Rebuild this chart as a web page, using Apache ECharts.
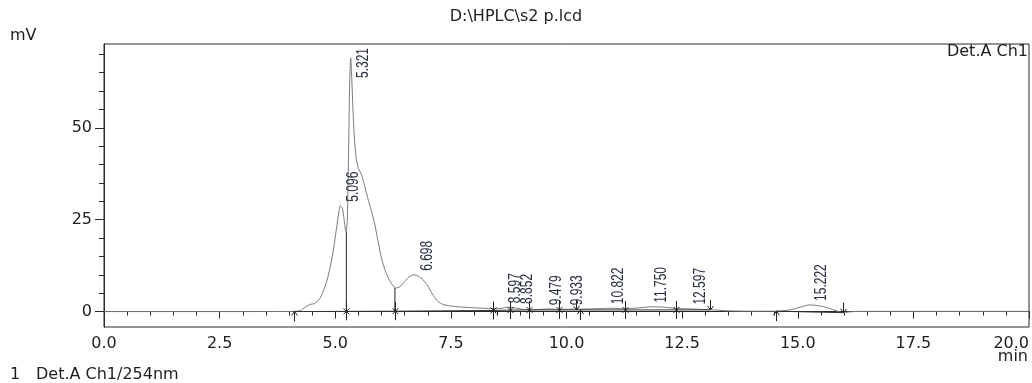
<!DOCTYPE html>
<html><head><meta charset="utf-8">
<script src="https://cdn.jsdelivr.net/npm/echarts@6/dist/echarts.min.js"></script>
<style>html,body{margin:0;padding:0;background:#fff}#c{width:1032px;height:383px}</style>
</head><body><div id="c"></div>
<script>
// ---- data ----
const signalTimes = [
  0, 1, 2, 3, 3.8, 4.1, 4.25, 4.35, 4.45, 4.55,
  4.65, 4.75, 4.85, 4.95, 5.02, 5.08, 5.11, 5.15, 5.19, 5.23,
  5.26, 5.29, 5.315, 5.335, 5.355, 5.38, 5.41, 5.45, 5.50, 5.56,
  5.63, 5.70, 5.78, 5.85, 5.92, 6.00, 6.08, 6.16, 6.24, 6.31,
  6.40, 6.50, 6.60, 6.70, 6.80, 6.90, 7.00, 7.10, 7.20, 7.30,
  7.45, 7.65, 7.90, 8.20, 8.42, 8.60, 8.75, 8.90, 9.05, 9.20,
  9.40, 9.60, 9.84, 10.10, 10.40, 10.70, 10.95, 11.27, 11.55, 11.85,
  12.10, 12.37, 12.70, 13.10, 13.50, 14.00, 14.53, 14.80, 15.00, 15.25,
  15.50, 15.75, 15.98, 16.20, 16.60, 17.5, 18.5, 20
];
const signalValues = [
  0, 0, 0, 0, 0.02, 0.05, 0.3, 1.2, 1.9, 2.2,
  3.2, 5.8, 9.8, 16.0, 22.0, 27.3, 28.8, 28.3, 25.2, 21.8,
  24.5, 45, 64, 69, 64, 56, 48, 42, 39, 37.5,
  34.5, 31, 27.5, 24, 19.5, 14.5, 11.2, 8.8, 7.2, 6.4,
  6.8, 8.2, 9.5, 10.0, 9.6, 8.6, 7.0, 4.8, 3.0, 2.1,
  1.6, 1.3, 1.1, 0.9, 0.75, 0.9, 1.2, 1.0, 0.6, 0.45,
  0.55, 0.7, 0.6, 0.65, 0.7, 0.8, 0.9, 0.75, 1.0, 1.3,
  1.2, 0.85, 0.7, 0.5, 0.2, 0.1, 0.1, 0.4, 1.0, 1.8,
  1.5, 0.6, -0.3, 0.0, 0.05, 0.05, 0.05, 0.05
];
// integration baseline (null = gap)
const baselineTimes  = [4.10, 5.24, 6.29, 8.42, 8.78, 9.19, 9.84, 10.20, 10.30, 11.27, 12.37, 13.10, null, 14.53, 15.98];
const baselineValues = [0.0, 0.05, 0.1, 0.3, 0.4, 0.45, 0.45, 0.45, 0.45, 0.45, 0.45, 0.45, null, 0.1, -0.3];
// peak boundary marks
const markTimes  = [4.10, 5.24, 6.29, 8.42, 8.78, 9.19, 9.84, 10.20, 10.30, 11.27, 12.37, 13.10, 14.53, 15.98];
const markLevels = [0.0, 0.05, 0.1, 0.3, 0.4, 0.45, 0.45, 0.45, 0.45, 0.45, 0.45, 0.45, 0.1, -0.3];
const markKinds  = ['start','cut','cut','cut','cut','cut','cut','end','start','cut','cut','end','start','end'];
// vertical drop lines
const dropTimes = [5.24, 6.29];
const dropLows  = [0.05, 0.1];
const dropHighs = [21.8, 6.4];
// peak retention-time labels
const peakTimes   = [5.096, 5.321, 6.698, 8.597, 8.852, 9.479, 9.933, 10.822, 11.750, 12.597, 15.222];
const peakHeights = [28.8, 69.0, 10.0, 1.2, 1.0, 0.6, 0.6, 0.9, 1.3, 0.8, 1.8];
const peakLabels  = ['5.096','5.321','6.698','8.597','8.852','9.479','9.933','10.822','11.750','12.597','15.222'];
// axis ticks
const yLabelValues = [0, 25, 50];
const yMinorValues = [5, 10, 15, 20, 30, 35, 40, 45, 55, 60, 65, 70];
const xMin = 0, xMax = 20, xStep = 2.5;
const yMin = -4.2, yMax = 72.8;

const FONT = 'DejaVu Sans';
const TXT = '#1e1e1e';
const AX = '#2a2a2a';

const chart = echarts.init(document.getElementById('c'), null, {renderer: 'canvas'});

const signal = signalTimes.map((t, i) => [t, signalValues[i]]);
const baseline = baselineTimes.map((t, i) => t === null ? [null, null] : [t, baselineValues[i]]);
const marks = markTimes.map((t, i) => [t, markLevels[i]]);
const drops = dropTimes.map((t, i) => [t, dropLows[i], dropHighs[i]]);
const peaks = peakTimes.map((t, i) => [t, peakHeights[i]]);

const option = {
  animation: false,
  backgroundColor: '#fff',
  grid: {left: 104, right: 3, top: 44, bottom: 56, show: true, borderColor: AX, borderWidth: 1, backgroundColor: 'transparent'},
  xAxis: {
    type: 'value', min: xMin, max: xMax, interval: xStep,
    axisLine: {show: true, lineStyle: {color: AX, width: 1}},
    axisTick: {show: true, length: 7, lineStyle: {color: AX}},
    minorTick: {show: true, splitNumber: 5, length: 4, lineStyle: {color: AX}},
    splitLine: {show: false},
    axisLabel: {margin: 9, color: TXT, fontFamily: FONT, fontSize: 16, formatter: v => v.toFixed(1), alignMaxLabel: 'right'}
  },
  yAxis: [
    {
      type: 'value', min: yMin, max: yMax,
      axisLine: {show: true, lineStyle: {color: AX}},
      axisTick: {show: true, length: 9, customValues: yLabelValues, lineStyle: {color: AX}},
      axisLabel: {show: true, margin: 12, customValues: yLabelValues, color: TXT, fontFamily: FONT, fontSize: 16},
      splitLine: {show: false}
    },
    {
      type: 'value', min: yMin, max: yMax, position: 'left',
      axisLine: {show: false},
      axisTick: {show: true, length: 5, customValues: yMinorValues, lineStyle: {color: AX}},
      axisLabel: {show: false},
      splitLine: {show: false}
    }
  ],
  series: [
    {
      type: 'line', data: signal, showSymbol: false, smooth: 0.25,
      lineStyle: {color: '#7a7a7a', width: 1}, z: 2, silent: true
    },
    {
      type: 'line', data: baseline, showSymbol: false, connectNulls: false,
      lineStyle: {color: '#333', width: 1}, z: 3, silent: true
    },
    {
      type: 'custom', data: drops, z: 4, silent: true,
      renderItem: (params, api) => {
        const a = api.coord([api.value(0), api.value(1)]);
        const b = api.coord([api.value(0), api.value(2)]);
        return {type: 'line', shape: {x1: a[0], y1: a[1], x2: b[0], y2: b[1]}, style: {stroke: '#222', lineWidth: 1}};
      }
    },
    {
      type: 'custom', data: marks, z: 5, silent: true,
      renderItem: (params, api) => {
        const p = api.coord([api.value(0), api.value(1)]);
        const x = Math.round(p[0]) + 0.5, y = p[1];
        const kind = markKinds[params.dataIndex];
        const st = {stroke: '#222', lineWidth: 1, fill: null};
        const L = (x1, y1, x2, y2) => ({type: 'line', shape: {x1, y1, x2, y2}, style: st});
        let ch;
        if (kind === 'cut') {
          ch = [L(x, y - 9, x, y + 9), L(x - 3, y - 3, x + 3, y + 3), L(x - 3, y + 3, x + 3, y - 3)];
        } else if (kind === 'start') {
          ch = [L(x, y, x, y + 10), {type: 'polyline', shape: {points: [[x - 3, y + 4], [x, y], [x + 3, y + 4]]}, style: st}];
        } else {
          ch = [L(x, y - 10, x, y), {type: 'polyline', shape: {points: [[x - 3, y - 4], [x, y], [x + 3, y - 4]]}, style: st}];
        }
        return {type: 'group', children: ch};
      }
    },
    {
      type: 'custom', data: peaks, z: 6, silent: true,
      renderItem: (params, api) => {
        const p = api.coord([api.value(0), api.value(1)]);
        const txt = peakLabels[params.dataIndex];
        const topY = api.coord([0, yMax])[1];
        const len = echarts.format.getTextRect ? echarts.format.getTextRect(txt, '12px "Liberation Sans"').width : txt.length * 6.2;
        let y = p[1] - 4;
        if (y - len < topY + 4) y = topY + 4 + len;
        return {
          type: 'text', x: p[0] + 14, y: y, rotation: Math.PI / 2, scaleY: 1.3,
          style: {text: txt, fill: '#262d3d', fontFamily: 'Liberation Sans', fontSize: 12, align: 'left', verticalAlign: 'middle'}
        };
      }
    }
  ],
  graphic: [
    {type: 'text', left: 'center', top: 9, style: {text: 'D:\\HPLC\\s2 p.lcd', fill: TXT, fontFamily: FONT, fontSize: 16}},
    {type: 'text', left: 10, top: 28, style: {text: 'mV', fill: TXT, fontFamily: FONT, fontSize: 16}},
    {type: 'text', right: 4, top: 44, style: {text: 'Det.A Ch1', fill: TXT, fontFamily: FONT, fontSize: 16}},
    {type: 'text', right: 4, top: 349, style: {text: 'min', fill: TXT, fontFamily: FONT, fontSize: 16}},
    {type: 'text', left: 10, top: 367, style: {text: '1', fill: TXT, fontFamily: FONT, fontSize: 16}},
    {type: 'text', left: 36, top: 367, style: {text: 'Det.A Ch1/254nm', fill: TXT, fontFamily: FONT, fontSize: 16}}
  ]
};
chart.setOption(option);
</script>
</body></html>
